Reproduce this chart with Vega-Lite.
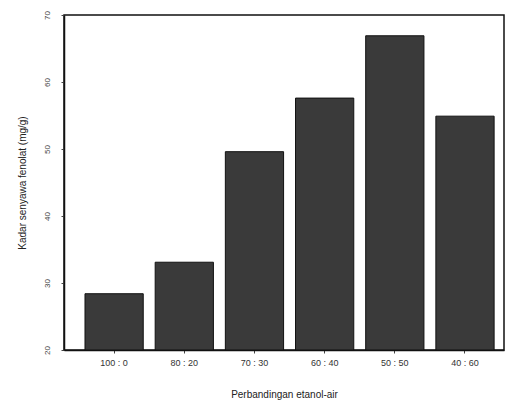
{
  "$schema": "https://vega.github.io/schema/vega-lite/v6.json",
  "autosize": "none",
  "padding": {"left": 64, "top": 15, "right": 4, "bottom": 62},
  "width": 440,
  "height": 335,
  "background": "white",
  "data": {"values": [
    {"rasio": "100 : 0", "fenolat": 28.4},
    {"rasio": "80 : 20", "fenolat": 33.1},
    {"rasio": "70 : 30", "fenolat": 49.6},
    {"rasio": "60 : 40", "fenolat": 57.6},
    {"rasio": "50 : 50", "fenolat": 66.9},
    {"rasio": "40 : 60", "fenolat": 54.9}
  ]},
  "mark": {"type": "bar", "fill": "#3a3a3a", "stroke": "#111", "strokeWidth": 1},
  "encoding": {
    "x": {
      "field": "rasio", "type": "nominal", "sort": null,
      "scale": {"paddingInner": 0.17, "paddingOuter": 0.22, "align": 0.68},
      "axis": {"labelAngle": 0, "title": "Perbandingan etanol-air", "titleFont": "Liberation Sans", "labelFont": "Liberation Sans", "labelFontSize": 9, "titleFontSize": 10, "titleFontWeight": "normal", "labelColor": "#333", "titleColor": "#222", "domainColor": "#111", "domainWidth": 1.5, "tickColor": "#444", "tickSize": 3, "titlePadding": 22, "labelPadding": 5}
    },
    "y": {
      "field": "fenolat", "type": "quantitative",
      "scale": {"domain": [20, 70], "nice": false, "zero": false},
      "axis": {"values": [20, 30, 40, 50, 60, 70], "grid": false, "labelAngle": -90, "labelAlign": "center", "labelBaseline": "bottom", "labelPadding": 10, "title": "Kadar senyawa fenolat (mg/g)", "titleFont": "Liberation Sans", "labelFont": "Liberation Sans", "labelFontSize": 8, "titleFontSize": 10, "titleFontWeight": "normal", "labelColor": "#444", "titleColor": "#222", "domainColor": "#111", "domainWidth": 1.5, "tickColor": "#444", "tickSize": 3, "titlePadding": 16}
    },
    "y2": {"datum": 20}
  },
  "config": {"view": {"stroke": "#111", "strokeWidth": 1.5}}
}
